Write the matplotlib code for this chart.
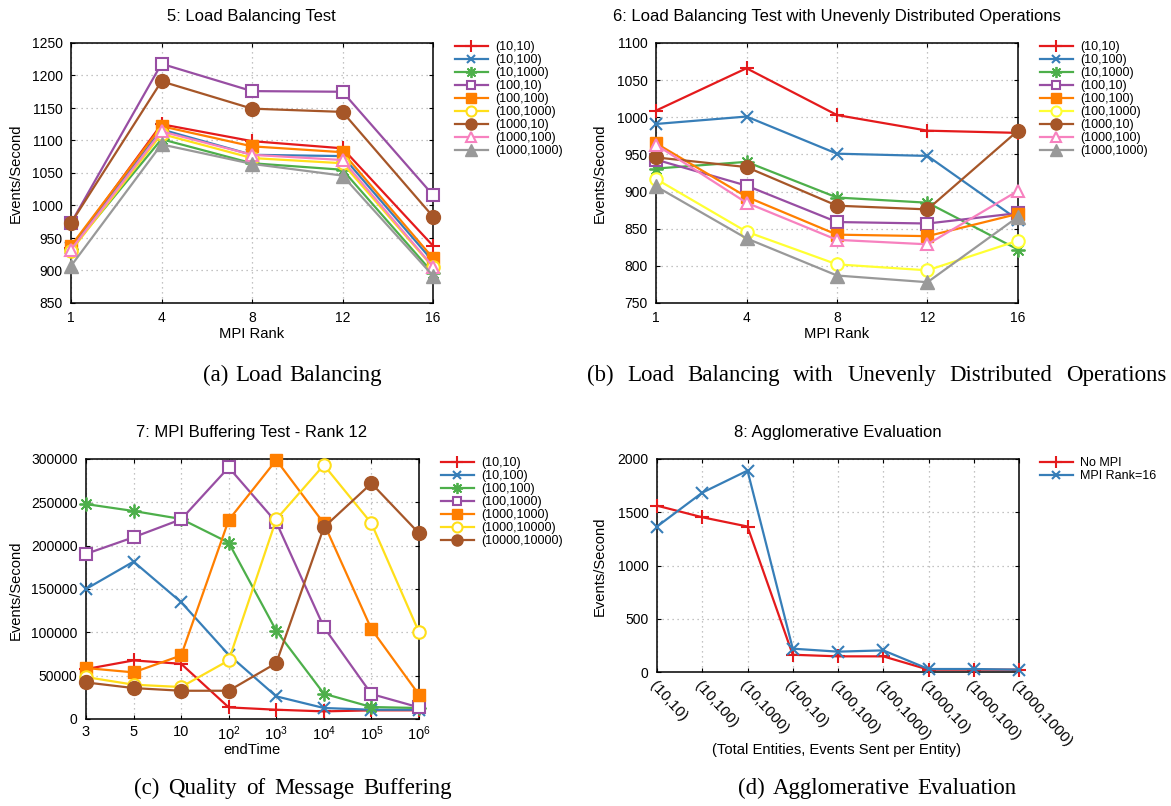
import matplotlib
matplotlib.use('Agg')
import matplotlib.pyplot as plt

plt.rcParams['font.family'] = ['Liberation Sans', 'DejaVu Sans']
plt.rcParams['mathtext.fontset'] = 'custom'
plt.rcParams['mathtext.rm'] = 'Liberation Sans'
plt.rcParams['mathtext.it'] = 'Liberation Sans'
plt.rcParams['mathtext.default'] = 'regular'

# ---------------- data ----------------
ranks = ['1', '4', '8', '12', '16']
lb_labels = ['(10,10)', '(10,100)', '(10,1000)', '(100,10)', '(100,100)',
             '(100,1000)', '(1000,10)', '(1000,100)', '(1000,1000)']

# (a) Load balancing
lb_10_10 = [935, 1125, 1099, 1088, 938]
lb_10_100 = [934, 1117, 1078, 1076, 914]
lb_10_1000 = [933, 1102, 1065, 1055, 896]
lb_100_10 = [973, 1218, 1176, 1175, 1016]
lb_100_100 = [938, 1122, 1091, 1082, 919]
lb_100_1000 = [930, 1110, 1073, 1065, 905]
lb_1000_10 = [973, 1191, 1149, 1144, 983]
lb_1000_100 = [932, 1114, 1078, 1070, 906]
lb_1000_1000 = [907, 1094, 1064, 1046, 892]

# (b) Unevenly distributed
ue_10_10 = [1009, 1066, 1003, 982, 979]
ue_10_100 = [991, 1001, 951, 948, 862]
ue_10_1000 = [931, 940, 892, 885, 822]
ue_100_10 = [943, 908, 859, 857, 871]
ue_100_100 = [965, 893, 842, 840, 870]
ue_100_1000 = [917, 846, 802, 794, 834]
ue_1000_10 = [946, 933, 881, 876, 982]
ue_1000_100 = [963, 885, 835, 829, 901]
ue_1000_1000 = [907, 837, 787, 778, 866]

# (c) MPI buffering
end_times = ['3', '5', '10', '10$^2$', '10$^3$', '10$^4$', '10$^5$', '10$^6$']
buf_labels = ['(10,10)', '(10,100)', '(100,100)', '(100,1000)',
              '(1000,1000)', '(1000,10000)', '(10000,10000)']
buf_10_10 = [57600, 67600, 63700, 13400, 10700, 8800, 10000, 10000]
buf_10_100 = [150000, 181600, 134800, 74100, 26100, 12700, 10700, 10700]
buf_100_100 = [248000, 240000, 230800, 203500, 101800, 29200, 13800, 12700]
buf_100_1000 = [190500, 209700, 230400, 290300, 227000, 106000, 28800, 13400]
buf_1000_1000 = [58800, 53800, 73300, 229600, 298800, 225800, 103700, 28000]
buf_1000_10000 = [48400, 39600, 36900, 67600, 230400, 293000, 225800, 100200]
buf_10000_10000 = [42200, 35700, 32600, 32600, 64500, 221200, 271900, 214300]

# (d) Agglomerative
agg_cats = ['(10,10)', '(10,100)', '(10,1000)', '(100,10)', '(100,100)',
            '(100,1000)', '(1000,10)', '(1000,100)', '(1000,1000)']
agg_labels = ['No MPI', 'MPI Rank=16']
agg_nompi = [1562, 1453, 1366, 162, 147, 147, 22, 22, 22]
agg_mpi16 = [1366, 1684, 1891, 219, 191, 203, 28, 28, 22]

# ---------------- styles ----------------
RED, BLUE, GREEN, PURPLE = '#e41a1c', '#377eb8', '#4daf4a', '#984ea3'
ORANGE, YELLOW, BROWN, PINK, GRAY = '#ff7f00', '#ffdf1a', '#a65628', '#f781bf', '#999999'
YELLOW2 = '#ffff33'
ASTER = (8, 2, 0)
sty9 = [
    dict(color=RED, marker='+', ms=10, mfc=RED, mew=1.5),
    dict(color=BLUE, marker='x', ms=8, mfc=BLUE, mew=1.5),
    dict(color=GREEN, marker=ASTER, ms=10, mfc=GREEN, mew=1.3),
    dict(color=PURPLE, marker='s', ms=8, mfc='white', mew=1.5),
    dict(color=ORANGE, marker='s', ms=9, mfc=ORANGE, mew=1),
    dict(color=YELLOW, marker='o', ms=9, mfc='white', mew=1.5),
    dict(color=BROWN, marker='o', ms=10, mfc=BROWN, mew=1),
    dict(color=PINK, marker='^', ms=9, mfc='white', mew=1.5),
    dict(color=GRAY, marker='^', ms=10, mfc=GRAY, mew=1),
]

W, H = 1171, 806
fig = plt.figure(figsize=(W / 100, H / 100), dpi=100)


def ax_px(l, t, r, b):
    return fig.add_axes([l / W, 1 - b / H, (r - l) / W, (b - t) / H])


def fx(x):
    return x / W


def fy(y):
    return 1 - y / H


TICK_FS = 10
LEG_FS = 9
TITLE_FS = 12
LABEL_FS = 10.6


def style_axes(ax):
    ax.grid(True, color='#b0b0b0', linestyle=(0, (1, 3)), linewidth=0.9)
    ax.set_axisbelow(True)
    for s in ax.spines.values():
        s.set_linewidth(1.1)
    ax.tick_params(direction='in', length=3, width=0.8, top=True, right=True,
                   labelsize=TICK_FS, pad=6)


def plot_series(ax, xs, series, labels, styles):
    for ys, lab, st in zip(series, labels, styles):
        ax.plot(xs, ys, label=lab, lw=1.6, clip_on=False, zorder=3,
                markeredgecolor=st['color'], color=st['color'], marker=st['marker'],
                markersize=st['ms'], markerfacecolor=st['mfc'], markeredgewidth=st['mew'])


def add_legend(ax, x, y):
    leg = ax.legend(loc='upper left', bbox_to_anchor=(fx(x), fy(y)),
                    bbox_transform=fig.transFigure, frameon=False, fontsize=LEG_FS,
                    labelspacing=0.08, handlelength=2.6, handletextpad=0.6,
                    numpoints=1, borderpad=0, borderaxespad=0, markerscale=0.8)
    return leg


# ---------------- (a) ----------------
ax1 = ax_px(71, 43, 433, 303)
xs = list(range(len(ranks)))
plot_series(ax1, xs, [lb_10_10, lb_10_100, lb_10_1000, lb_100_10, lb_100_100,
                      lb_100_1000, lb_1000_10, lb_1000_100, lb_1000_1000],
            lb_labels, sty9)
ax1.set_xlim(0, len(ranks) - 1)
ax1.set_xticks(xs)
ax1.set_xticklabels(ranks)
ax1.set_ylim(850, 1250)
ax1.set_yticks(range(850, 1251, 50))
style_axes(ax1)
add_legend(ax1, 455, 41)
fig.text(fx(251), fy(17), '5: Load Balancing Test', ha='center', va='center', fontsize=TITLE_FS)
fig.text(fx(252), fy(334), 'MPI Rank', ha='center', va='center', fontsize=LABEL_FS)
fig.text(fx(16), fy(173), 'Events/Second', ha='center', va='center', rotation=90, fontsize=LABEL_FS)

# ---------------- (b) ----------------
sty9b = [dict(s) for s in sty9]
sty9b[5]['color'] = YELLOW2
ax2 = ax_px(656, 43, 1018, 303)
plot_series(ax2, xs, [ue_10_10, ue_10_100, ue_10_1000, ue_100_10, ue_100_100,
                      ue_100_1000, ue_1000_10, ue_1000_100, ue_1000_1000],
            lb_labels, sty9b)
ax2.set_xlim(0, len(ranks) - 1)
ax2.set_xticks(xs)
ax2.set_xticklabels(ranks)
ax2.set_ylim(750, 1100)
ax2.set_yticks(range(750, 1101, 50))
style_axes(ax2)
add_legend(ax2, 1040, 41)
fig.text(fx(837), fy(17), '6: Load Balancing Test with Unevenly Distributed Operations',
         ha='center', va='center', fontsize=TITLE_FS)
fig.text(fx(837), fy(334), 'MPI Rank', ha='center', va='center', fontsize=LABEL_FS)
fig.text(fx(600), fy(173), 'Events/Second', ha='center', va='center', rotation=90, fontsize=LABEL_FS)

# ---------------- (c) ----------------
ax3 = ax_px(86, 459, 419, 719)
xs3 = list(range(len(end_times)))
sty7 = [sty9[0], sty9[1], sty9[2], sty9[3], sty9[4], sty9[5], sty9[6]]
plot_series(ax3, xs3, [buf_10_10, buf_10_100, buf_100_100, buf_100_1000,
                       buf_1000_1000, buf_1000_10000, buf_10000_10000],
            buf_labels, sty7)
ax3.set_xlim(0, len(end_times) - 1)
ax3.set_xticks(xs3)
ax3.set_xticklabels(end_times)
ax3.set_ylim(0, 300000)
ax3.set_yticks(range(0, 300001, 50000))
style_axes(ax3)
ax3.tick_params(axis='x', pad=4, labelsize=10.5)
add_legend(ax3, 441, 457)
fig.text(fx(252), fy(433), '7: MPI Buffering Test - Rank 12', ha='center', va='center', fontsize=TITLE_FS)
fig.text(fx(252), fy(750), 'endTime', ha='center', va='center', fontsize=LABEL_FS)
fig.text(fx(16), fy(590), 'Events/Second', ha='center', va='center', rotation=90, fontsize=LABEL_FS)

# ---------------- (d) ----------------
ax4 = ax_px(657, 459, 1019, 672)
xs4 = list(range(len(agg_cats)))
plot_series(ax4, xs4, [agg_nompi, agg_mpi16], agg_labels, [sty9[0], sty9[1]])
ax4.set_xlim(0, len(agg_cats) - 1)
ax4.set_xticks(xs4)
ax4.set_xticklabels(agg_cats, rotation=-48, ha='left', va='top', rotation_mode='anchor')
ax4.set_ylim(0, 2000)
ax4.set_yticks(range(0, 2001, 500))
style_axes(ax4)
ax4.tick_params(axis='x', pad=5, labelsize=11)
add_legend(ax4, 1040, 457)
fig.text(fx(838), fy(433), '8: Agglomerative Evaluation', ha='center', va='center', fontsize=TITLE_FS)
fig.text(fx(837), fy(750), '(Total Entities, Events Sent per Entity)', ha='center', va='center', fontsize=LABEL_FS)
fig.text(fx(600), fy(566), 'Events/Second', ha='center', va='center', rotation=90, fontsize=LABEL_FS)

# ---------------- captions ----------------
CAP_FS = 16.5
CAP_FAM = ['Liberation Serif', 'DejaVu Serif']
renderer = fig.canvas.get_renderer()


def caption(words, y_base, x0=None, x1=None, center=None, gap=None):
    texts = [fig.text(0, fy(y_base), w, ha='left', va='baseline', fontsize=CAP_FS, family=CAP_FAM)
             for w in words]
    widths = [t.get_window_extent(renderer).width for t in texts]
    if gap is None:
        gap = (x1 - x0 - sum(widths)) / (len(words) - 1)
    else:
        total = sum(widths) + gap * (len(words) - 1)
        x0 = center - total / 2
    x = x0
    for t, w in zip(texts, widths):
        t.set_x(fx(x))
        x += w + gap


caption(['(a)', 'Load', 'Balancing'], 381, center=292, gap=7)
caption(['(b)', 'Load', 'Balancing', 'with', 'Unevenly', 'Distributed', 'Operations'], 381,
        x0=587, x1=1166)
caption(['(c)', 'Quality', 'of', 'Message', 'Buffering'], 794, center=293, gap=9)
caption(['(d)', 'Agglomerative', 'Evaluation'], 794, center=877, gap=8)

fig.savefig('out.png', dpi=100)
